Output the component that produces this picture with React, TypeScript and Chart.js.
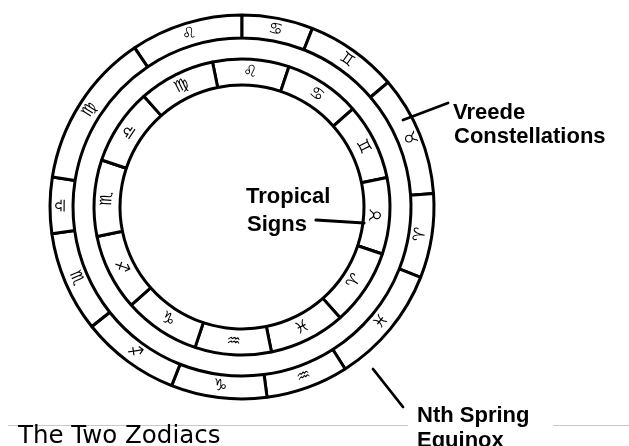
import React, { useEffect, useRef } from "react";
import { Chart, DoughnutController, ArcElement } from "chart.js";

Chart.register(DoughnutController, ArcElement);

// Vreede constellations (outer ring), clockwise from the top-left Leo, spans in degrees
const outerSigns = ["♌", "♋", "♊", "♉", "♈", "♓", "♒", "♑", "♐", "♏", "♎", "♍"];
const outerSpans = [34, 21.5, 28, 36.5, 25.5, 36, 25, 29, 30, 30.5, 17, 47];
const outerStart = -34;

// Tropical signs (inner ring), equal 30-degree signs
const innerSigns = ["♌", "♋", "♊", "♉", "♈", "♓", "♒", "♑", "♐", "♏", "♎", "♍"];
const innerSpans = [30, 30, 30, 30, 30, 30, 30, 30, 30, 30, 30, 30];
const innerStart = -11.5;

const titleText = "The Two Zodiacs";
const outerNote = ["Vreede", "Constellations"];
const innerNote = ["Tropical", "Signs"];
const equinoxNote = ["Nth Spring", "Equinox"];

const W = 629;
const H = 446;

const annotate = {
  id: "annotate",
  afterDatasetsDraw(chart: any) {
    const ctx: CanvasRenderingContext2D = chart.ctx;
    const rings: [number, string[]][] = [
      [0, outerSigns],
      [2, innerSigns],
    ];
    rings.forEach(([di, labels]) => {
      const meta = chart.getDatasetMeta(di);
      meta.data.forEach((arc: any, i: number) => {
        const p = arc.getProps(["x", "y", "startAngle", "endAngle", "innerRadius", "outerRadius"], true);
        const a = (p.startAngle + p.endAngle) / 2;
        const r = (p.innerRadius + p.outerRadius) / 2;
        const x = p.x + Math.cos(a) * r;
        const y = p.y + Math.sin(a) * r;
        ctx.save();
        ctx.translate(x, y);
        let rot = a + Math.PI / 2;
        if (Math.sin(a) > 0.05) rot -= Math.PI;
        ctx.rotate(rot);
        ctx.font = 'bold 16px "DejaVu Sans"';
        ctx.textAlign = "center";
        ctx.textBaseline = "middle";
        ctx.fillStyle = "#000";
        ctx.fillText(labels[i] + "\uFE0E", 0, 0);
        ctx.restore();
      });
    });

    ctx.save();
    // gray rules
    ctx.strokeStyle = "#c8c8c8";
    ctx.lineWidth = 1;
    ctx.beginPath();
    ctx.moveTo(8, 425.5);
    ctx.lineTo(408, 425.5);
    ctx.moveTo(553, 425.5);
    ctx.lineTo(629, 425.5);
    ctx.stroke();

    // pointer lines
    ctx.strokeStyle = "#000";
    ctx.lineCap = "round";
    const seg = (x1: number, y1: number, x2: number, y2: number, w: number) => {
      ctx.lineWidth = w;
      ctx.beginPath();
      ctx.moveTo(x1, y1);
      ctx.lineTo(x2, y2);
      ctx.stroke();
    };
    seg(403, 120, 448, 103, 2.8);
    seg(316, 220, 364, 223, 3.2);
    seg(373, 369, 403, 407, 2.8);

    // notes
    ctx.fillStyle = "#000";
    ctx.textAlign = "left";
    ctx.textBaseline = "alphabetic";
    ctx.font = 'bold 22px "Liberation Sans"';
    ctx.fillText(outerNote[0], 453, 119);
    ctx.fillText(outerNote[1], 454, 143);
    ctx.fillText(innerNote[0], 246, 203);
    ctx.fillText(innerNote[1], 247, 231);
    ctx.fillText(equinoxNote[0], 417, 422);
    ctx.fillText(equinoxNote[1], 417, 447);

    ctx.font = '24.5px "DejaVu Sans"';
    ctx.fillStyle = "#000";
    ctx.fillText(titleText, 18, 443);
    ctx.restore();
  },
};

export default function App() {
  const ref = useRef<HTMLCanvasElement | null>(null);

  useEffect(() => {
    if (!ref.current) return;
    const chart = new Chart(ref.current, {
      type: "doughnut",
      data: {
        labels: outerSigns,
        datasets: [
          {
            data: outerSpans,
            rotation: outerStart,
            backgroundColor: "#fff",
            borderColor: "#000",
            borderWidth: 3,
            weight: 23,
          } as any,
          {
            data: [1],
            backgroundColor: "rgba(0,0,0,0)",
            borderWidth: 0,
            weight: 21,
          } as any,
          {
            data: innerSpans,
            rotation: innerStart,
            backgroundColor: "#fff",
            borderColor: "#000",
            borderWidth: 3,
            weight: 26,
          } as any,
        ],
      },
      options: {
        responsive: false,
        animation: false,
        events: [],
        radius: 192,
        cutout: `${(122 / 192) * 100}%`,
        layout: { padding: { left: 0, right: 145, top: 0, bottom: 32 } },
        plugins: {
          legend: { display: false },
          tooltip: { enabled: false },
        },
      } as any,
      plugins: [annotate],
    });
    return () => chart.destroy();
  }, []);

  return (
    <div style={{ position: "fixed", left: 0, top: 0, width: W, height: H, background: "#fff" }}>
      <canvas ref={ref} width={W} height={H} style={{ width: W, height: H, display: "block" }} />
    </div>
  );
}
